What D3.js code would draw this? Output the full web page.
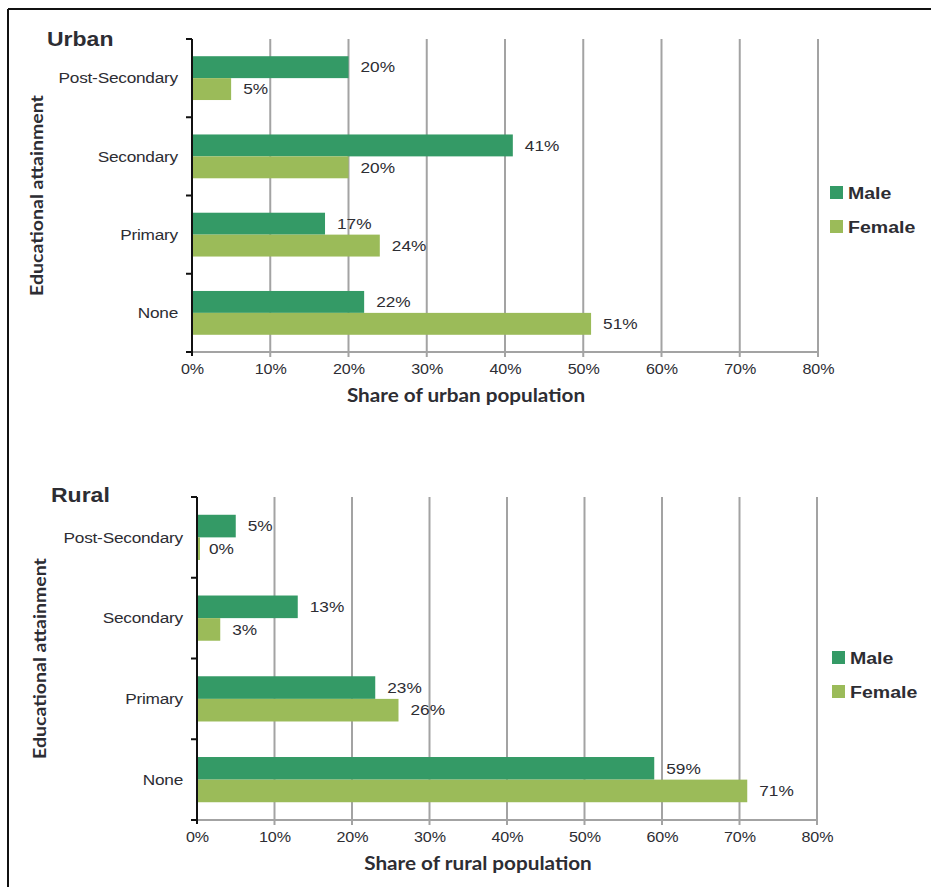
<!DOCTYPE html>
<html>
<head>
<meta charset="utf-8">
<script src="https://cdn.jsdelivr.net/npm/d3@7"></script>
<style>
  html, body { margin: 0; padding: 0; background: #fff; }
  svg { display: block; }
  text { fill: #2d2d33; }
</style>
</head>
<body>
<div id="chart"></div>
<script>
// Educational attainment by sex, urban vs rural
const categories = ["Post-Secondary", "Secondary", "Primary", "None"];
const seriesNames = ["Male", "Female"];
const urbanMale = [20, 41, 17, 22];
const urbanFemale = [5, 20, 24, 51];
const ruralMale = [5, 13, 23, 59];
const ruralFemale = [0, 3, 26, 71];
const xTickValues = [0, 10, 20, 30, 40, 50, 60, 70, 80];

const colors = { Male: "#349a66", Female: "#9bbb59" };
const SANS = "'Liberation Sans', Arial, sans-serif";
const HUMANIST = "Lato, 'Open Sans', sans-serif";
const SX = 1.15; // slightly wide lettering

const W = 931, H = 887;
const svg = d3.select("#chart").append("svg")
  .attr("width", W).attr("height", H);

// place a horizontally widened text at (x, y)
function wideText(parent, x, y, txt, opts) {
  const t = parent.append("text")
    .attr("transform", `translate(${x},${y}) scale(${SX},1)`)
    .attr("font-family", opts.family || SANS)
    .attr("font-size", opts.size)
    .attr("font-weight", opts.weight || "normal")
    .attr("text-anchor", opts.anchor || "start")
    .text(txt);
  if (opts.dy) t.attr("dy", opts.dy);
  return t;
}

// frame lines (top and left)
svg.append("line").attr("x1", 8).attr("x2", W).attr("y1", 9).attr("y2", 9)
  .attr("stroke", "#111").attr("stroke-width", 2);
svg.append("line").attr("x1", 8).attr("x2", 8).attr("y1", 9).attr("y2", H)
  .attr("stroke", "#111").attr("stroke-width", 2);

function panel(cfg) {
  const g = svg.append("g");
  const x = d3.scaleLinear().domain([0, 80]).range([cfg.left, cfg.right]);
  const y = d3.scaleBand().domain(categories).range([cfg.top, cfg.bottom])
    .paddingInner(0.44).paddingOuter(0.22);
  const ySub = d3.scaleBand().domain(seriesNames).range([0, y.bandwidth()]);

  // vertical gridlines (extend slightly below the axis as tick marks)
  g.append("g").selectAll("line").data(xTickValues.slice(1)).join("line")
    .attr("x1", d => x(d)).attr("x2", d => x(d))
    .attr("y1", cfg.top).attr("y2", cfg.bottom + 5)
    .attr("stroke", "#a3a3a3").attr("stroke-width", 2);

  // bottom axis baseline
  g.append("line").attr("x1", cfg.left).attr("x2", cfg.right)
    .attr("y1", cfg.bottom).attr("y2", cfg.bottom)
    .attr("stroke", "#a3a3a3").attr("stroke-width", 2);

  // x tick labels
  const xAxis = d3.axisBottom(x).tickValues(xTickValues)
    .tickFormat(d => d + "%").tickSize(0).tickPadding(12);
  const xa = g.append("g").attr("transform", `translate(0,${cfg.bottom})`).call(xAxis);
  xa.select(".domain").remove();
  xa.selectAll("text")
    .attr("font-family", SANS)
    .attr("font-size", 14).attr("fill", "#2d2d33")
    .attr("transform", `scale(${SX},1)`);

  // y axis with ticks at category boundaries
  const bounds = categories.map(c => y(c) - y.step() * y.paddingInner() / 2);
  bounds[0] = cfg.top;
  bounds.push(cfg.bottom);
  g.append("line").attr("x1", cfg.left).attr("x2", cfg.left)
    .attr("y1", cfg.top).attr("y2", cfg.bottom + 4)
    .attr("stroke", "#111").attr("stroke-width", 2);
  g.append("g").selectAll("line").data(bounds).join("line")
    .attr("x1", cfg.left - 6).attr("x2", cfg.left)
    .attr("y1", d => d).attr("y2", d => d)
    .attr("stroke", "#111").attr("stroke-width", 2);

  // category labels
  const catG = g.append("g");
  categories.forEach(c => {
    wideText(catG, cfg.left - 14, y(c) + y.bandwidth() / 2, c,
      { size: 15, anchor: "end", dy: "0.35em" }).attr("letter-spacing", -0.2);
  });

  // bars
  const rows = [];
  categories.forEach((c, i) => {
    rows.push({ cat: c, series: "Male", value: cfg.male[i] });
    rows.push({ cat: c, series: "Female", value: cfg.female[i] });
  });
  g.append("g").selectAll("rect").data(rows).join("rect")
    .attr("x", x(0) + 1)
    .attr("y", d => y(d.cat) + ySub(d.series))
    .attr("width", d => Math.max(x(d.value) - x(0) - 1, 2))
    .attr("height", ySub.bandwidth())
    .attr("fill", d => colors[d.series]);

  // value labels
  const valG = g.append("g");
  rows.forEach(d => {
    wideText(valG, x(d.value) + 12, y(d.cat) + ySub(d.series) + ySub.bandwidth() / 2,
      d.value + "%", { size: 15, dy: "0.35em" });
  });

  // panel title
  wideText(g, cfg.titleX, cfg.titleY, cfg.title, { size: 20, weight: "bold" });

  // axis titles
  wideText(g, cfg.xTitleX, cfg.bottom + 50, cfg.xTitle,
    { size: 18, weight: "bold", family: HUMANIST, anchor: "middle" });
  g.append("text")
    .attr("transform",
      `translate(${cfg.yTitleX},${(cfg.top + cfg.bottom) / 2}) rotate(-90) scale(${SX},1)`)
    .attr("text-anchor", "middle")
    .attr("font-family", HUMANIST)
    .attr("font-weight", "bold").attr("font-size", 17)
    .text("Educational attainment");

  // legend
  const lg = g.append("g").attr("transform", `translate(${cfg.legendX},${cfg.legendY})`);
  seriesNames.forEach((s, i) => {
    lg.append("rect").attr("x", 0).attr("y", i * 34).attr("width", 13).attr("height", 13)
      .attr("fill", colors[s]);
    wideText(lg, 18, i * 34 + 6.5, s, { size: 17, weight: "bold", dy: "0.36em" });
  });
}

panel({
  title: "Urban", titleX: 47, titleY: 46,
  left: 192, right: 818, top: 39, bottom: 352,
  male: urbanMale, female: urbanFemale,
  xTitle: "Share of urban population", xTitleX: 466,
  yTitleX: 43,
  legendX: 830, legendY: 186
});

panel({
  title: "Rural", titleX: 51, titleY: 502,
  left: 197, right: 817, top: 497, bottom: 820,
  male: ruralMale, female: ruralFemale,
  xTitle: "Share of rural population", xTitleX: 478,
  yTitleX: 46,
  legendX: 832, legendY: 651
});
</script>
</body>
</html>
